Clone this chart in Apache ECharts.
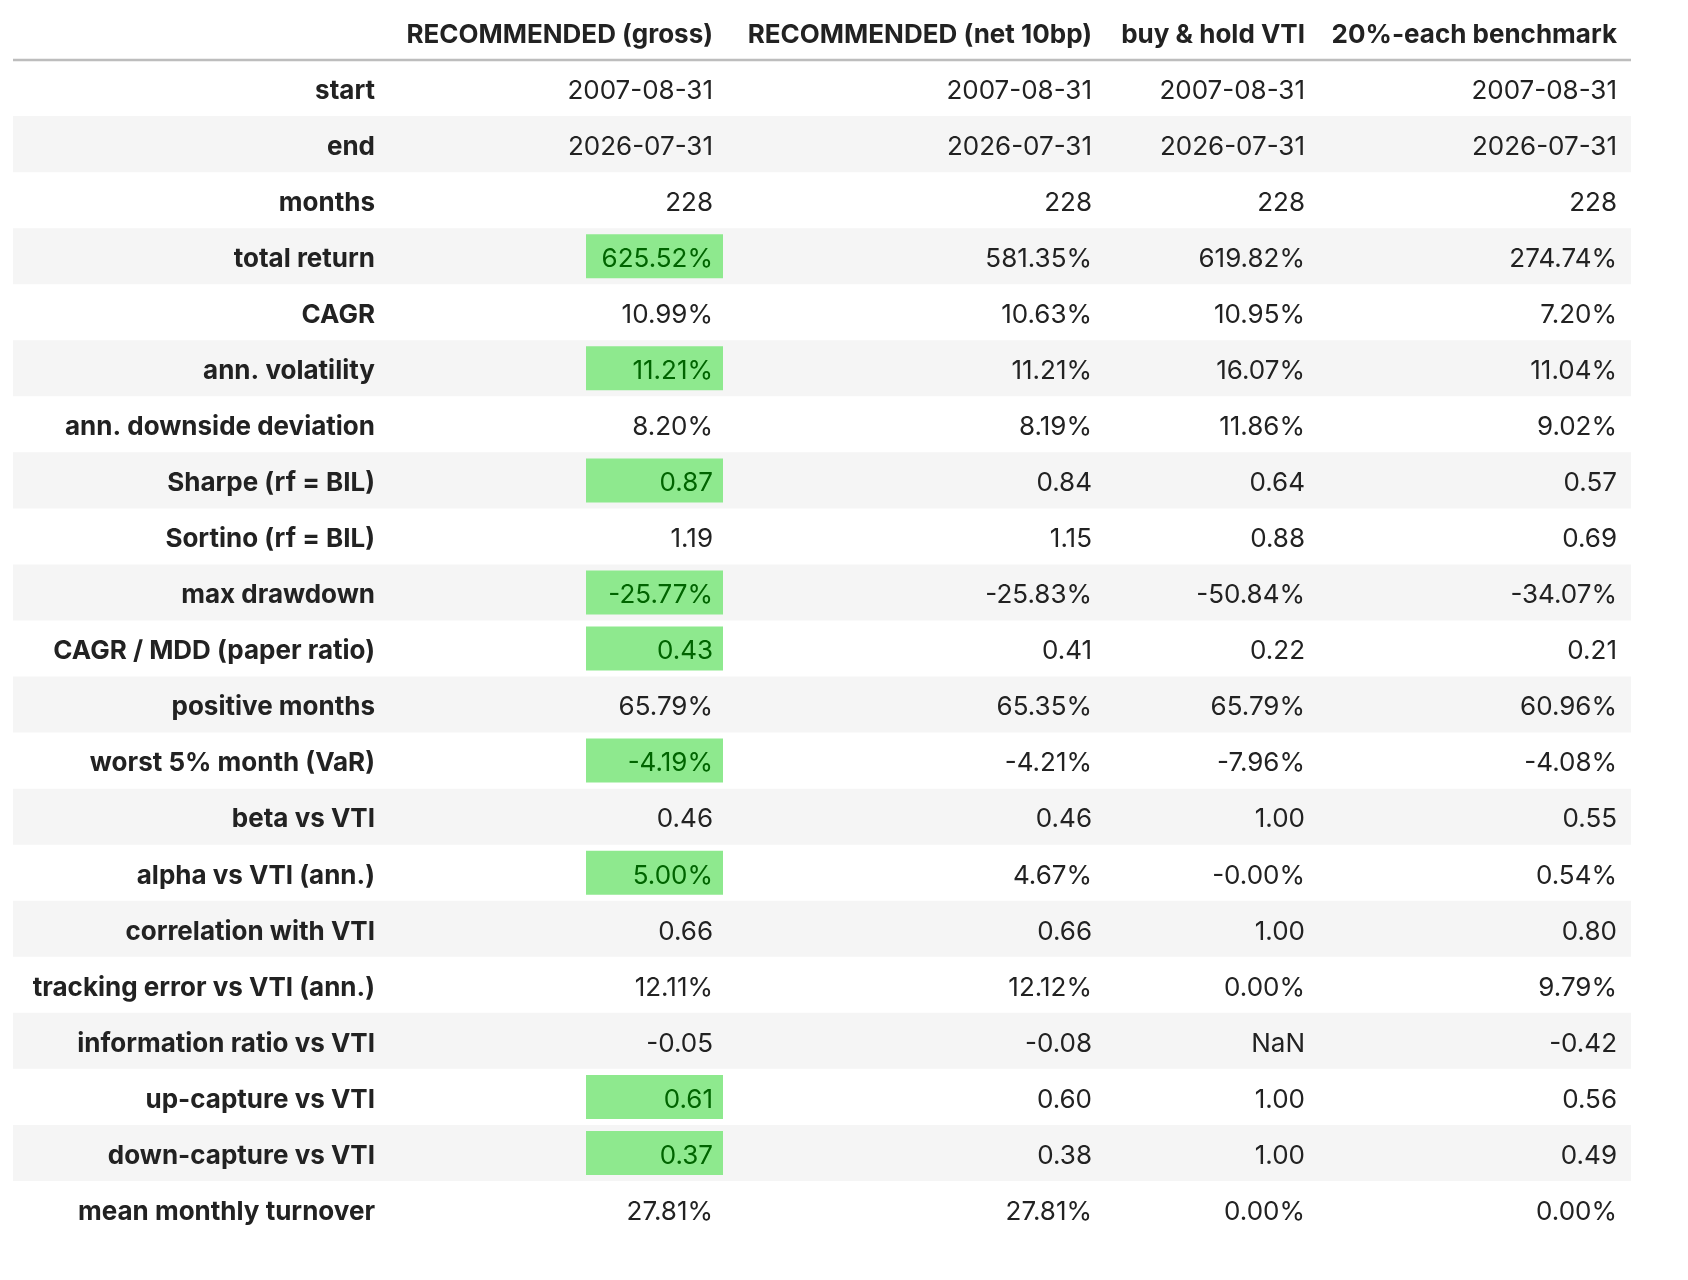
<!DOCTYPE html>
<html>
<head>
<meta charset="utf-8">
<script src="https://cdn.jsdelivr.net/npm/echarts@6/dist/echarts.min.js"></script>
<style>
  html, body { margin: 0; padding: 0; background: #fff; }
  #chart { width: 1688px; height: 1280px; }
</style>
</head>
<body>
<div id="chart"></div>
<script>
// table content
const columns = ['RECOMMENDED (gross)', 'RECOMMENDED (net 10bp)', 'buy & hold VTI', '20%-each benchmark'];
const rowLabels = ['start', 'end', 'months', 'total return', 'CAGR', 'ann. volatility',
  'ann. downside deviation', 'Sharpe (rf = BIL)', 'Sortino (rf = BIL)', 'max drawdown',
  'CAGR / MDD (paper ratio)', 'positive months', 'worst 5% month (VaR)', 'beta vs VTI',
  'alpha vs VTI (ann.)', 'correlation with VTI', 'tracking error vs VTI (ann.)',
  'information ratio vs VTI', 'up-capture vs VTI', 'down-capture vs VTI', 'mean monthly turnover'];
const gross = ['2007-08-31', '2026-07-31', '228', '625.52%', '10.99%', '11.21%', '8.20%', '0.87', '1.19',
  '-25.77%', '0.43', '65.79%', '-4.19%', '0.46', '5.00%', '0.66', '12.11%', '-0.05', '0.61', '0.37', '27.81%'];
const net = ['2007-08-31', '2026-07-31', '228', '581.35%', '10.63%', '11.21%', '8.19%', '0.84', '1.15',
  '-25.83%', '0.41', '65.35%', '-4.21%', '0.46', '4.67%', '0.66', '12.12%', '-0.08', '0.60', '0.38', '27.81%'];
const vti = ['2007-08-31', '2026-07-31', '228', '619.82%', '10.95%', '16.07%', '11.86%', '0.64', '0.88',
  '-50.84%', '0.22', '65.79%', '-7.96%', '1.00', '-0.00%', '1.00', '0.00%', 'NaN', '1.00', '1.00', '0.00%'];
const bench = ['2007-08-31', '2026-07-31', '228', '274.74%', '7.20%', '11.04%', '9.02%', '0.57', '0.69',
  '-34.07%', '0.21', '60.96%', '-4.08%', '0.55', '0.54%', '0.80', '9.79%', '-0.42', '0.56', '0.49', '0.00%'];
// rows where the gross column is highlighted as best
const bestGross = [0, 0, 0, 1, 0, 1, 0, 1, 0, 1, 1, 0, 1, 0, 1, 0, 0, 0, 1, 1, 0];

// layout: right edge of the text in each column (x axis units = px from table left)
const textRight = [362, 700, 1079, 1292, 1604];
const tableWidth = 1618;
const FONT = 'Inter, "Noto Sans", sans-serif';

const valueCols = [gross, net, vti, bench];
const yCats = ['header'].concat(rowLabels);

// one item per cell: [x, rowIndex, text, bold, highlight]
const cells = [];
columns.forEach((name, c) => cells.push([textRight[c + 1], 0, name, 1, 0]));
rowLabels.forEach((label, r) => {
  cells.push([textRight[0], r + 1, label, 1, 0]);
  valueCols.forEach((col, c) => {
    cells.push([textRight[c + 1], r + 1, col[r], 0, c === 0 ? bestGross[r] : 0]);
  });
});

const bands = yCats.map((_, i) => [0, i]);

const chart = echarts.init(document.getElementById('chart'));
chart.setOption({
  animation: false,
  grid: { left: 13, right: 57, top: 4, bottom: 43 },
  xAxis: { type: 'value', min: 0, max: tableWidth, show: false },
  yAxis: { type: 'category', data: yCats, inverse: true, show: false },
  series: [{
    type: 'custom',
    silent: true,
    data: bands,
    renderItem(params, api) {
      const row = api.value(1);
      const p0 = api.coord([0, row]);
      const p1 = api.coord([tableWidth, row]);
      const h = api.size([0, 1])[1];
      if (row === 0) {
        return {
          type: 'line',
          shape: { x1: p0[0], y1: p0[1] + h / 2, x2: p1[0], y2: p0[1] + h / 2 },
          style: { stroke: '#bdbdbd', lineWidth: 2.5 }
        };
      }
      if (row % 2 === 1) return null;
      return {
        type: 'rect',
        shape: { x: p0[0], y: p0[1] - h / 2, width: p1[0] - p0[0], height: h },
        style: { fill: '#f5f5f5' }
      };
    }
  }, {
    type: 'custom',
    silent: true,
    data: cells,
    encode: { x: 0, y: 1 },
    renderItem(params, api) {
      const cell = cells[params.dataIndex];
      const p = api.coord([cell[0], cell[1]]);
      const children = [];
      if (cell[4]) {
        children.push({
          type: 'rect',
          shape: { x: p[0] - 127, y: p[1] - 22, width: 137, height: 44 },
          style: { fill: '#8ee98e' }
        });
      }
      children.push({
        type: 'text',
        x: p[0],
        y: p[1] + 3,
        style: {
          text: cell[2],
          align: 'right',
          verticalAlign: 'middle',
          font: (cell[3] ? '700 ' : '400 ') + '26px ' + FONT,
          fill: cell[4] ? '#006400' : '#222222'
        }
      });
      return { type: 'group', children };
    }
  }]
});
</script>
</body>
</html>
